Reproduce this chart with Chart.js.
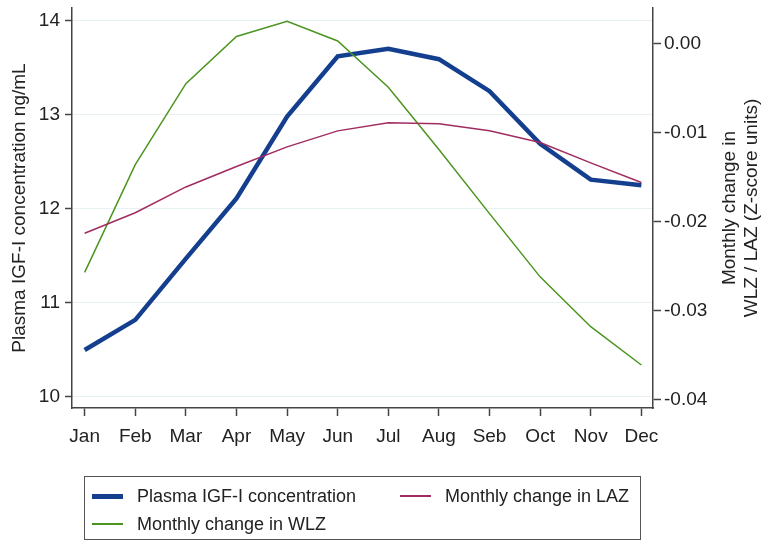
<!DOCTYPE html>
<html>
<head>
<meta charset="utf-8">
<script src="https://cdn.jsdelivr.net/npm/chart.js@4.4.1/dist/chart.umd.min.js"></script>
<style>
  html, body { margin: 0; padding: 0; background: #fff; }
  #wrap { position: relative; width: 770px; height: 546px; }
  #legend {
    position: absolute; left: 84px; top: 476px; width: 557px; height: 64px;
    border: 1.5px solid #555; box-sizing: border-box;
    font-family: 'Liberation Sans', Arial, sans-serif; font-size: 18px; color: #222;
  }
  .item { position: absolute; height: 22px; line-height: 22px; white-space: nowrap; }
  .sw { position: absolute; left: 0; top: 50%; width: 31px; }
  .item span { position: absolute; left: 45px; }
</style>
</head>
<body>
<div id="wrap">
  <canvas id="igfChart" width="770" height="546"></canvas>
  <div id="legend"></div>
</div>
<script>
const months = ['Jan', 'Feb', 'Mar', 'Apr', 'May', 'Jun', 'Jul', 'Aug', 'Seb', 'Oct', 'Nov', 'Dec'];
const igf = [10.50, 10.82, 11.47, 12.11, 12.98, 13.62, 13.70, 13.59, 13.25, 12.69, 12.31, 12.25];
const wlz = [-0.0257, -0.0136, -0.0045, 0.0008, 0.0025, 0.0003, -0.0049, -0.0119, -0.0191, -0.0262, -0.0318, -0.0361];
const laz = [-0.0213, -0.0190, -0.0161, -0.0138, -0.0116, -0.0098, -0.0089, -0.0090, -0.0098, -0.0111, -0.0134, -0.0156];
const leftTicks = [10, 11, 12, 13, 14];
const rightTicks = [0, -0.01, -0.02, -0.03, -0.04];

const BLUE = '#143f8f';
const GREEN = '#4b951f';
const RED = '#a02c60';
const AXIS = '#444';

Chart.defaults.font.family = "'Liberation Sans', Arial, sans-serif";
Chart.defaults.color = '#222';

function points(values) {
    return values.map(function (v, i) { return { x: i, y: v }; });
}

// fixed axis boxes so the plot area lands where the reference has it
function fixBox(size) {
    return function (scale) {
        if (scale.isHorizontal()) {
            scale.height = size;
        } else {
            scale.width = size;
        }
        scale.paddingTop = 0;
        scale.paddingBottom = 0;
        scale.paddingLeft = 0;
        scale.paddingRight = 0;
    };
}

// right axis title reads bottom-to-top like the left one
const rightTitle = {
    id: 'rightTitle',
    afterDraw(chart) {
        const ctx = chart.ctx;
        ctx.save();
        ctx.fillStyle = '#222';
        ctx.font = "19px 'Liberation Sans', Arial, sans-serif";
        ctx.textAlign = 'center';
        ctx.textBaseline = 'middle';
        const cy = (chart.chartArea.top + chart.chartArea.bottom) / 2;
        ctx.translate(741, cy);
        ctx.rotate(-Math.PI / 2);
        ctx.fillText('Monthly change in', 0, -11);
        ctx.fillText('WLZ / LAZ (Z-score units)', 0, 11);
        ctx.restore();
    }
};

const ctx = document.getElementById('igfChart').getContext('2d');

new Chart(ctx, {
    type: 'line',
    data: {
        datasets: [
            {
                label: 'Plasma IGF-I concentration',
                data: points(igf),
                yAxisID: 'y',
                borderColor: BLUE,
                borderWidth: 4.5,
                pointRadius: 0,
                tension: 0,
                order: 3
            },
            {
                label: 'Monthly change in WLZ',
                data: points(wlz),
                yAxisID: 'y1',
                borderColor: GREEN,
                borderWidth: 1.5,
                pointRadius: 0,
                tension: 0,
                order: 2
            },
            {
                label: 'Monthly change in LAZ',
                data: points(laz),
                yAxisID: 'y1',
                borderColor: RED,
                borderWidth: 1.5,
                pointRadius: 0,
                tension: 0,
                order: 1
            }
        ]
    },
    options: {
        responsive: false,
        animation: false,
        layout: { padding: { top: 8 } },
        plugins: {
            legend: { display: false },
            tooltip: { enabled: false }
        },
        scales: {
            x: {
                type: 'linear',
                min: -0.25,
                max: 11.23,
                afterBuildTicks: function (scale) {
                    scale.ticks = months.map(function (m, i) { return { value: i }; });
                },
                afterFit: fixBox(138),
                ticks: {
                    font: { size: 19 },
                    padding: 9,
                    maxRotation: 0,
                    autoSkip: false,
                    callback: function (v) { return months[v]; }
                },
                grid: {
                    drawOnChartArea: false,
                    tickLength: 8,
                    tickColor: AXIS,
                    tickWidth: 1.5
                },
                border: { color: AXIS, width: 1.5 }
            },
            y: {
                position: 'left',
                min: 9.883,
                max: 14.134,
                afterBuildTicks: function (scale) {
                    scale.ticks = leftTicks.map(function (v) { return { value: v }; });
                },
                afterFit: fixBox(72),
                ticks: {
                    font: { size: 19 },
                    padding: 5
                },
                grid: {
                    color: '#e8f1f3',
                    lineWidth: 1,
                    tickLength: 7,
                    tickColor: AXIS,
                    tickWidth: 1.5
                },
                border: { color: AXIS, width: 1.5 },
                title: {
                    display: true,
                    text: 'Plasma IGF-I concentration ng/mL',
                    font: { size: 19 },
                    padding: { top: 8, bottom: 0 }
                }
            },
            y1: {
                position: 'right',
                min: -0.04093,
                max: 0.0040,
                afterBuildTicks: function (scale) {
                    scale.ticks = rightTicks.map(function (v) { return { value: v }; });
                },
                afterFit: fixBox(117),
                ticks: {
                    font: { size: 19 },
                    padding: 3,
                    callback: function (v) { return v.toFixed(2); }
                },
                grid: {
                    drawOnChartArea: false,
                    tickLength: 8,
                    tickColor: AXIS,
                    tickWidth: 1.5
                },
                border: { color: AXIS, width: 1.5 }
            }
        }
    },
    plugins: [rightTitle]
});

// legend box below the plot
const legendItems = [
    { text: 'Plasma IGF-I concentration', color: BLUE, width: 5, left: 7, top: 8 },
    { text: 'Monthly change in LAZ', color: RED, width: 2, left: 315, top: 8 },
    { text: 'Monthly change in WLZ', color: GREEN, width: 2, left: 7, top: 36 }
];
const legend = document.getElementById('legend');
legendItems.forEach(function (it) {
    const el = document.createElement('div');
    el.className = 'item';
    el.style.left = it.left + 'px';
    el.style.top = it.top + 'px';
    const sw = document.createElement('div');
    sw.className = 'sw';
    sw.style.borderTop = it.width + 'px solid ' + it.color;
    sw.style.marginTop = (-it.width / 2) + 'px';
    const label = document.createElement('span');
    label.textContent = it.text;
    el.appendChild(sw);
    el.appendChild(label);
    legend.appendChild(el);
});
</script>
</body>
</html>
